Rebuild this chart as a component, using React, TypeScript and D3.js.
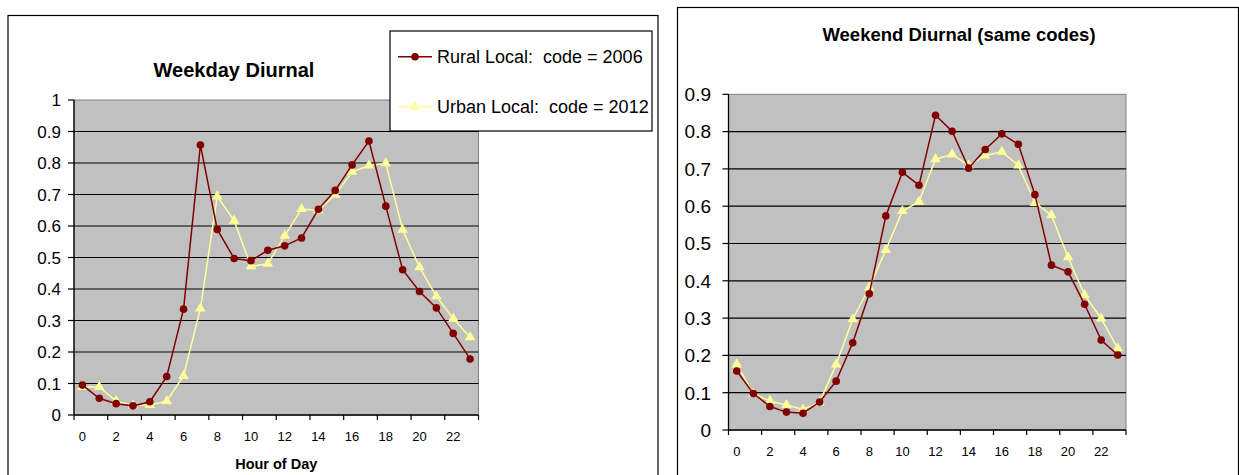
import { useEffect, useRef } from "react";
import * as d3 from "d3";

const hours = d3.range(0, 24).map(String);
const hourTickLabels = ["0", "2", "4", "6", "8", "10", "12", "14", "16", "18", "20", "22"];

const seriesNames = ["Rural Local:  code = 2006", "Urban Local:  code = 2012"];

const weekdayRural = [
  0.095, 0.053, 0.036, 0.029, 0.042, 0.122, 0.336, 0.857, 0.589, 0.497, 0.49, 0.523,
  0.537, 0.562, 0.653, 0.713, 0.794, 0.87, 0.663, 0.461, 0.392, 0.34, 0.259, 0.178,
];
const weekdayUrban = [
  0.089, 0.089, 0.044, 0.031, 0.032, 0.044, 0.124, 0.338, 0.694, 0.617, 0.472, 0.48,
  0.569, 0.654, 0.649, 0.699, 0.772, 0.792, 0.799, 0.588, 0.469, 0.377, 0.306, 0.247,
];
const weekendRural = [
  0.158, 0.098, 0.063, 0.048, 0.045, 0.075, 0.131, 0.234, 0.365, 0.574, 0.691, 0.656,
  0.844, 0.801, 0.702, 0.752, 0.794, 0.766, 0.631, 0.442, 0.424, 0.337, 0.241, 0.201,
];
const weekendUrban = [
  0.176, 0.097, 0.078, 0.067, 0.055, 0.074, 0.176, 0.297, 0.382, 0.483, 0.587, 0.612,
  0.726, 0.739, 0.709, 0.736, 0.746, 0.709, 0.609, 0.576, 0.463, 0.362, 0.299, 0.219,
];

const RURAL = "#800000";
const URBAN = "#FFFF99";
const FONT = "Arial, 'Liberation Sans', sans-serif";

interface PanelOpts {
  frame: { x0: number; y0: number; x1: number; y1: number };
  plot: { left: number; right: number; top: number; bottom: number };
  yMax: number;
  rural: number[];
  urban: number[];
  title: string;
  titleX: number;
  titleY: number;
  titleSize: number;
  yLabelSize: number;
  yLabelX: number;
  xLabelY: number;
  xTitle?: string;
}

function drawPanel(svg: d3.Selection<SVGSVGElement, unknown, null, undefined>, o: PanelOpts) {
  const g = svg.append("g");

  // chart frame
  g.append("rect")
    .attr("x", o.frame.x0)
    .attr("y", o.frame.y0)
    .attr("width", o.frame.x1 - o.frame.x0)
    .attr("height", o.frame.y1 - o.frame.y0)
    .attr("fill", "#fff")
    .attr("stroke", "#000")
    .attr("stroke-width", 1.2);

  const x = d3.scaleBand<string>().domain(hours).range([o.plot.left, o.plot.right]).padding(0);
  const y = d3.scaleLinear().domain([0, o.yMax]).range([o.plot.bottom, o.plot.top]);
  const cx = (i: number) => (x(hours[i]) as number) + x.bandwidth() / 2;

  // plot area
  g.append("rect")
    .attr("x", o.plot.left)
    .attr("y", o.plot.top)
    .attr("width", o.plot.right - o.plot.left)
    .attr("height", o.plot.bottom - o.plot.top)
    .attr("fill", "#C0C0C0")
    .attr("stroke", "#808080")
    .attr("stroke-width", 1);

  const yTicks = d3.range(0, Math.round(o.yMax * 10) + 1).map((d) => d / 10);

  // gridlines
  g.selectAll(".grid")
    .data(yTicks.filter((d) => d > 0 && d < o.yMax - 1e-9))
    .join("line")
    .attr("x1", o.plot.left)
    .attr("x2", o.plot.right)
    .attr("y1", (d) => y(d))
    .attr("y2", (d) => y(d))
    .attr("stroke", "#000")
    .attr("stroke-width", 1.2);

  // y axis
  g.append("line")
    .attr("x1", o.plot.left)
    .attr("x2", o.plot.left)
    .attr("y1", o.plot.top)
    .attr("y2", o.plot.bottom)
    .attr("stroke", "#000")
    .attr("stroke-width", 1.3);
  g.selectAll(".ytick")
    .data(yTicks)
    .join("line")
    .attr("x1", o.plot.left - 6)
    .attr("x2", o.plot.left)
    .attr("y1", (d) => y(d))
    .attr("y2", (d) => y(d))
    .attr("stroke", "#000")
    .attr("stroke-width", 1.2);
  g.selectAll(".ylabel")
    .data(yTicks)
    .join("text")
    .attr("x", o.yLabelX)
    .attr("y", (d) => y(d))
    .attr("dy", "0.36em")
    .attr("text-anchor", "end")
    .style("font-family", FONT)
    .style("font-size", `${o.yLabelSize}px`)
    .style("fill", "#000")
    .text((d) => d3.format("")(d));

  // x axis
  g.append("line")
    .attr("x1", o.plot.left)
    .attr("x2", o.plot.right)
    .attr("y1", o.plot.bottom)
    .attr("y2", o.plot.bottom)
    .attr("stroke", "#000")
    .attr("stroke-width", 1.3);
  const tickIdx = d3.range(0, 25, 2);
  g.selectAll(".xtick")
    .data(tickIdx)
    .join("line")
    .attr("x1", (i) => o.plot.left + i * x.bandwidth())
    .attr("x2", (i) => o.plot.left + i * x.bandwidth())
    .attr("y1", o.plot.bottom)
    .attr("y2", o.plot.bottom + 5)
    .attr("stroke", "#000")
    .attr("stroke-width", 1.2);
  g.selectAll(".xlabel")
    .data(hourTickLabels)
    .join("text")
    .attr("x", (d) => cx(hours.indexOf(d)))
    .attr("y", o.xLabelY)
    .attr("text-anchor", "middle")
    .style("font-family", FONT)
    .style("font-size", "13px")
    .style("fill", "#000")
    .text((d) => d);

  const line = d3
    .line<number>()
    .x((_, i) => cx(i))
    .y((d) => y(d));

  // urban drawn first, rural over it
  g.append("path")
    .datum(o.urban)
    .attr("fill", "none")
    .attr("stroke", URBAN)
    .attr("stroke-width", 1.5)
    .attr("d", line);
  const tri = d3.symbol().type(d3.symbolTriangle).size(48);
  g.selectAll(".tri")
    .data(o.urban)
    .join("path")
    .attr("d", tri)
    .attr("transform", (d, i) => `translate(${cx(i)},${y(d)})`)
    .attr("fill", URBAN);

  g.append("path")
    .datum(o.rural)
    .attr("fill", "none")
    .attr("stroke", RURAL)
    .attr("stroke-width", 1.5)
    .attr("d", line);
  g.selectAll(".dot")
    .data(o.rural)
    .join("circle")
    .attr("cx", (_, i) => cx(i))
    .attr("cy", (d) => y(d))
    .attr("r", 3.8)
    .attr("fill", RURAL);

  g.append("text")
    .attr("x", o.titleX)
    .attr("y", o.titleY)
    .attr("text-anchor", "middle")
    .style("font-family", FONT)
    .style("font-size", `${o.titleSize}px`)
    .style("font-weight", "700")
    .style("fill", "#000")
    .text(o.title);

  if (o.xTitle) {
    g.append("text")
      .attr("x", (o.plot.left + o.plot.right) / 2)
      .attr("y", 469)
      .attr("text-anchor", "middle")
      .style("font-family", FONT)
      .style("font-size", "14.5px")
      .style("font-weight", "700")
      .style("fill", "#000")
      .text(o.xTitle);
  }
}

export default function App() {
  const svgRef = useRef<SVGSVGElement>(null);

  useEffect(() => {
    if (!svgRef.current) return;
    const svg = d3.select(svgRef.current);
    svg.selectAll("*").remove();

    drawPanel(svg, {
      frame: { x0: 8, y0: 15.5, x1: 658, y1: 490 },
      plot: { left: 74, right: 478.5, top: 100, bottom: 415 },
      yMax: 1,
      rural: weekdayRural,
      urban: weekdayUrban,
      title: "Weekday Diurnal",
      titleX: 234,
      titleY: 77,
      titleSize: 20,
      yLabelSize: 17,
      yLabelX: 61,
      xLabelY: 441,
      xTitle: "Hour of Day",
    });

    drawPanel(svg, {
      frame: { x0: 677.5, y0: 7.5, x1: 1238.5, y1: 490 },
      plot: { left: 728.5, right: 1126, top: 94.3, bottom: 430 },
      yMax: 0.9,
      rural: weekendRural,
      urban: weekendUrban,
      title: "Weekend Diurnal (same codes)",
      titleX: 959,
      titleY: 41,
      titleSize: 18.5,
      yLabelSize: 19,
      yLabelX: 711,
      xLabelY: 456,
    });

    // Legend (belongs to weekday chart)
    const legend = svg.append("g");
    legend
      .append("rect")
      .attr("x", 390)
      .attr("y", 31)
      .attr("width", 262)
      .attr("height", 100)
      .attr("fill", "#fff")
      .attr("stroke", "#000")
      .attr("stroke-width", 1.2);
    const rows = [
      { name: seriesNames[0], color: RURAL, y: 56.7, shape: "circle" },
      { name: seriesNames[1], color: URBAN, y: 106.7, shape: "triangle" },
    ];
    rows.forEach((r) => {
      legend
        .append("line")
        .attr("x1", 398)
        .attr("x2", 432)
        .attr("y1", r.y)
        .attr("y2", r.y)
        .attr("stroke", r.color)
        .attr("stroke-width", 1.5);
      if (r.shape === "circle") {
        legend.append("circle").attr("cx", 415).attr("cy", r.y).attr("r", 3.8).attr("fill", r.color);
      } else {
        legend
          .append("path")
          .attr("d", d3.symbol().type(d3.symbolTriangle).size(48)())
          .attr("transform", `translate(415,${r.y})`)
          .attr("fill", r.color);
      }
      legend
        .append("text")
        .attr("x", 437)
        .attr("y", r.y)
        .attr("dy", "0.36em")
        .style("font-family", FONT)
        .style("font-size", "18px")
        .style("fill", "#000")
        .style("white-space", "pre")
        .text(r.name);
    });
  }, []);

  return (
    <svg
      ref={svgRef}
      width={1239}
      height={475}
      style={{ position: "absolute", left: 0, top: 0, display: "block", background: "#fff" }}
    />
  );
}
